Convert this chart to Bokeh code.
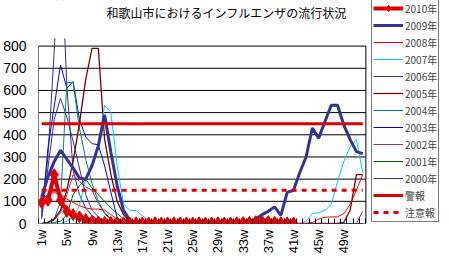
import math
import numpy as np
from bokeh.plotting import figure
from bokeh.models import FixedTicker, Legend, LegendItem, Range1d, Label
from bokeh.embed import file_html
from bokeh.resources import INLINE

NAN = float("nan")
weeks = list(range(1, 53))
tick_weeks = [1, 5, 9, 13, 17, 21, 25, 29, 33, 37, 41, 45, 49]
tick_labels = {w: f"{w}w" for w in tick_weeks}
y_ticks = [0, 100, 200, 300, 400, 500, 600, 700, 800]

title_text = "和歌山市におけるインフルエンザの流行状況"

v2010 = [95, 105, 220, 105, 55, 40, 30, 18, 10, 7, 5, 4, 3, 3, 2, 3, 2, 2, 3, 2,
         2, 3, 2, 2, 2, 3, 2, 2, 3, 2, 2, 3, 4, 5, 8, 10, 9, 6, 4, 3,
         2] + [NAN] * 11
v2009 = [120, 210, 280, 330, 290, 250, 205, 200, 260, 350, 490, 320, 170, 60, 15, 3,
         0, 0, 0, 0, 0, 0, 0, 0, 0, 0, 0, 0, 0, 0, 0, 0, 0, 5,
         20, 40, 55, 75, 37, 140, 150, 230, 300, 430, 385, 460, 533, 533, 444, 378, 324, 315]
v2008 = [110, 130, 140, 130, 110, 95, 80, 70, 65, 65, 60, 40, 20, 5, 0,
         0, 0, 0, 0, 0, 0, 0, 0, 0, 0, 0, 0, 0, 0, 0, 0, 0, 0, 0, 0, 0, 0, 0, 0, 0, 0, 0, 0,
         5, 20, 28, 30, 30, 45, 85, 150, 220]
v2007 = [0, 0, 0, 0, 10, 30, 80, 200, 275, 360, 533, 500, 260, 90, 58, 58, 35, 15, 5, 0,
         0, 0, 0, 0, 0, 0, 0, 0, 0, 0, 0, 0, 0, 0, 0, 0, 0, 0, 0, 0, 0, 0,
         10, 45, 48, 60, 85, 190, 280, 345, 380, 230]
v2006 = [20, 250, 470, 565, 480, 370, 250, 130, 60, 30, 10, 0] + [0] * 40
v2005 = [0, 5, 20, 60, 150, 280, 450, 650, 790, 790, 380, 220, 100, 40, 10, 0] + [0] * 32 + [5, 60, 220, 220]
v2004 = [0, 5, 20, 100, 635, 635, 430, 290, 180, 100, 45, 15, 0] + [0] * 39
v2003 = [30, 340, 530, 715, 610, 640, 470, 390, 360, 355, 260, 140, 25, 5, 0] + [0] * 37
v2002 = [0, 5, 15, 50, 130, 220, 190, 165, 150, 90, 50, 20, 5, 0] + [0] * 37 + [55]
v2001 = [0, 0, 5, 10, 40, 130, 170, 200, 160, 130, 100, 70, 45, 20, 0] + [0] * 37
v2000 = [50, 300, 780, 1300, 620, 240, 130, 70, 35, 15, 5, 0] + [0] * 40
alarm_level = [450] * 52
caution_level = [150] * 52

series = [
    ("2009年", v2009, "#333399", 3),
    ("2008年", v2008, "#ff0000", 1),
    ("2007年", v2007, "#00ccff", 1),
    ("2006年", v2006, "#333399", 1),
    ("2005年", v2005, "#800000", 1.3),
    ("2004年", v2004, "#008080", 1),
    ("2003年", v2003, "#0000ff", 1),
    ("2002年", v2002, "#993366", 1),
    ("2001年", v2001, "#006600", 1),
    ("2000年", v2000, "#333399", 1),
]

RED = "#e00000"
FONT_JP = "Noto Sans CJK JP"
FONT = "Liberation Sans"

# layout geometry (pixels): plot area 36..365 x, 46..225 y inside a 441x256 figure
X0, X1 = 0.5, 52.5
Y0, Y1 = 0, 800
px_left, px_right, px_top, px_bottom, fig_w, fig_h = 36, 365, 46, 225, 441, 256
x_scale = (px_right - px_left) / (X1 - X0)
y_scale = (px_bottom - px_top) / (Y1 - Y0)
x_end = X0 + (fig_w - px_left) / x_scale
y_end = Y0 + px_bottom / y_scale
clip_top = Y0 + (px_bottom - 38) / y_scale

p = figure(width=fig_w, height=fig_h, output_backend="svg", toolbar_location=None,
           x_range=Range1d(X0, x_end), y_range=Range1d(Y0, y_end),
           min_border_left=px_left, min_border_right=0, min_border_top=0,
           min_border_bottom=fig_h - px_bottom)
p.background_fill_color = "white"
p.border_fill_color = "white"
p.outline_line_color = None
p.xgrid.visible = False
p.ygrid.visible = False

yax = p.left[0]
yax.ticker = FixedTicker(ticks=y_ticks)
yax.axis_line_color = None
yax.major_tick_out = 0
yax.major_tick_in = 0
yax.minor_tick_out = 0
yax.minor_tick_in = 0
yax.major_label_standoff = 12
yax.major_label_text_font = FONT
yax.major_label_text_font_size = "14px"
yax.major_label_text_color = "black"

xax = p.below[0]
xax.ticker = FixedTicker(ticks=tick_weeks, minor_ticks=[w - 0.5 for w in weeks] + [52.5])
xax.major_label_overrides = tick_labels
xax.major_label_orientation = math.pi / 2
xax.major_tick_out = 0
xax.major_tick_in = 0
xax.minor_tick_in = 5
xax.minor_tick_out = 0
xax.minor_tick_line_color = "black"
xax.axis_line_color = None
xax.major_label_standoff = 6
xax.major_label_text_font = FONT
xax.major_label_text_font_size = "13px"
xax.major_label_text_color = "black"

# horizontal gridlines and plot-area side borders
p.segment(x0=[X0] * len(y_ticks), x1=[X1] * len(y_ticks), y0=y_ticks, y1=y_ticks,
          line_color="black", line_width=1)
p.segment(x0=[X0, X1], x1=[X0, X1], y0=[Y0, Y0], y1=[Y1, Y1], line_color="black", line_width=1)

renderers = {}
for name, vals, color, lw in reversed(series):
    r = p.line(weeks, np.array(vals, dtype=float), line_color=color, line_width=lw)
    renderers[name] = [r]

r_alarm = p.line(weeks, alarm_level, line_color=RED, line_width=3)
r_caution = p.line(weeks, caution_level, line_color=RED, line_width=3, line_dash="5 5")

arr2010 = np.array(v2010, dtype=float)
r10l = p.line(weeks, arr2010, line_color=RED, line_width=4)
r10s = p.scatter(weeks, arr2010, marker="diamond", size=12, fill_color=RED, line_color=RED)

# white mask above the chart area (lines are cut a little above the 800 line)
p.quad(left=[X0 - 1], right=[x_end], bottom=[clip_top], top=[y_end + 10],
       fill_color="white", line_color=None)

items = [LegendItem(label="2010年", renderers=[r10l, r10s])]
for name, vals, color, lw in series:
    items.append(LegendItem(label=name, renderers=renderers[name]))
items.append(LegendItem(label="警報", renderers=[r_alarm]))
items.append(LegendItem(label="注意報", renderers=[r_caution]))

legend = Legend(items=items, location=(369 - px_left, 1), margin=0, padding=1, spacing=1,
                glyph_width=30, glyph_height=16, label_height=16, label_standoff=2,
                label_text_font=FONT_JP, label_text_font_size="10px",
                border_line_color="black", border_line_width=1,
                background_fill_color="white", background_fill_alpha=1)
p.add_layout(legend)

title = Label(x=224 - px_left, y=px_bottom - 14, x_units="screen", y_units="screen",
              text=title_text, text_align="center", text_baseline="middle",
              text_font=FONT_JP, text_font_size="12px", text_color="black")
p.add_layout(title)

open("out.html", "w").write(file_html(p, INLINE))
